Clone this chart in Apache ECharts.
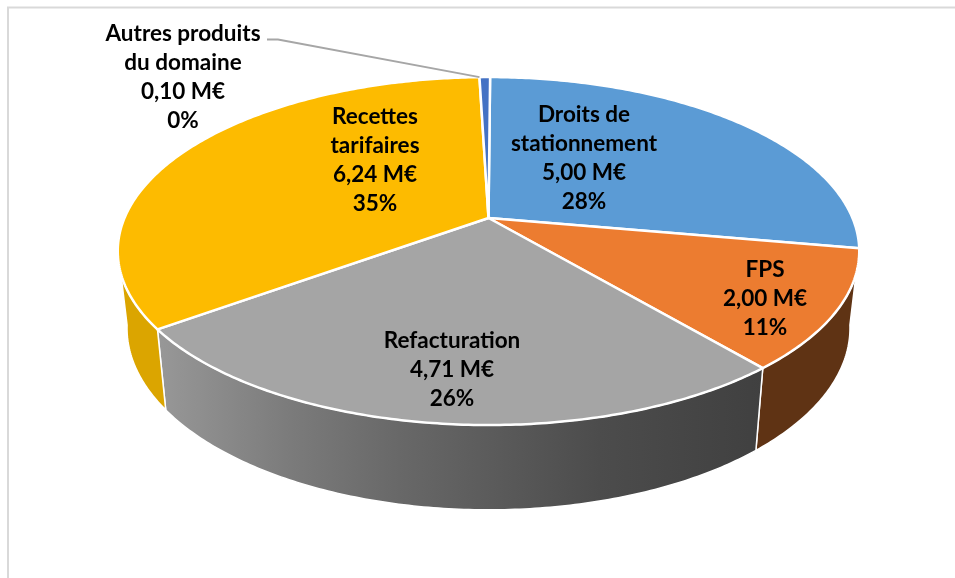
<!DOCTYPE html>
<html>
<head>
<meta charset="utf-8">
<title>Recettes</title>
<script src="https://cdn.jsdelivr.net/npm/echarts@6/dist/echarts.min.js"></script>
<style>
  html, body { margin: 0; padding: 0; background: #fff; }
  #chart { width: 955px; height: 578px; }
</style>
</head>
<body>
<div id="chart"></div>
<script>
// data
const names = ['Droits de\nstationnement', 'FPS', 'Refacturation', 'Recettes\ntarifaires', 'Autres produits\ndu domaine']
const values = [5.00, 2.00, 4.71, 6.24, 0.10]
const percents = [28, 11, 26, 35, 0]

// colours
const topColors = ['#5b9bd5', '#ec7c30', '#a5a5a5', '#fdbb00', '#4472c4']
const grayWall = [[0, '#989898'], [0.22, '#7b7b7b'], [0.4, '#686868'], [0.73, '#4c4c4c'], [1, '#404040']]
const wallColors = ['#3a6b9c', '#5f3314', grayWall, '#dba500', '#2f5597']

// label centres, in page pixels
const labelX = [584, 765, 452, 375, 183]
const labelY = [158, 299, 370, 160, 77]
const leaderFrom = [[267, 39.5], [278, 39.5]] // for the small slice only

// perspective of the disc: p is the foreshortening, see project()
const cx = 488.5, cy = 218, R = 364, Q = 167.7, p = 0.19
const startAngle = 0.3
// the lower rim of the wall
const wallScaleX = 0.975, wallScaleY = 1.045, wallTop = 293.5
// the part of the rim that faces us
const wallFrom = 100, wallTo = 260

const total = values.reduce((a, b) => a + b, 0)
const cumul = []
values.reduce((sum, v, i) => { cumul[i] = sum; return sum + v }, 0)
const sliceAngles = i => [
  startAngle + cumul[i] / total * 360,
  startAngle + (cumul[i] + values[i]) / total * 360
]

function project(deg) {
  const t = deg * Math.PI / 180
  const u = Math.sin(t), v = Math.cos(t)
  const w = 1 + p * v
  return [cx + R * u / w, cy - Q * v / w]
}
function projectLow(deg) {
  const [x, y] = project(deg)
  return [cx + (x - cx) * wallScaleX, wallTop + (y - cy) * wallScaleY]
}
function arc(fn, a, b) {
  const pts = []
  const n = Math.max(2, Math.ceil(Math.abs(b - a) * 1.5))
  for (let i = 0; i <= n; i++) pts.push(fn(a + (b - a) * i / n))
  return pts
}
function fmt(v) {
  return v.toFixed(2).replace('.', ',') + ' M€'
}

function renderWall(params, api) {
  const [a0, b0] = sliceAngles(params.dataIndex)
  const a = Math.max(a0, wallFrom), b = Math.min(b0, wallTo)
  if (b <= a) return { type: 'group', children: [] }
  const c = wallColors[params.dataIndex]
  const fill = Array.isArray(c)
    ? new echarts.graphic.LinearGradient(0, 0, 1, 0, c.map(s => ({ offset: s[0], color: s[1] })))
    : c
  const points = arc(project, a, b).concat(arc(projectLow, a, b).reverse())
  return {
    type: 'polygon',
    shape: { points },
    style: { fill, stroke: '#fff', lineWidth: 1.5 }
  }
}

function renderTop(params, api) {
  const i = params.dataIndex
  const [a, b] = sliceAngles(i)
  const points = [[cx, cy]].concat(arc(project, a, b))
  const children = [{
    type: 'polygon',
    shape: { points },
    style: { fill: topColors[i], stroke: '#fff', lineWidth: 2.5, lineJoin: 'round' }
  }]
  return { type: 'group', children }
}

function renderLabel(params, api) {
  const i = params.dataIndex
  const children = [{
    type: 'text',
    style: {
      text: names[i] + '\n' + fmt(api.value(0)) + '\n' + percents[i] + '%',
      x: labelX[i],
      y: labelY[i],
      align: 'center',
      verticalAlign: 'middle',
      fill: '#000',
      font: 'bold 22.5px Lato',
      lineHeight: 29
    }
  }]
  if (i === values.length - 1) {
    children.unshift({
      type: 'polyline',
      shape: { points: leaderFrom.concat([project(sliceAngles(i)[0])]) },
      style: { fill: null, stroke: '#a6a6a6', lineWidth: 2 }
    })
  }
  return { type: 'group', children }
}

const seriesData = values.map(v => [v])
const chart = echarts.init(document.getElementById('chart'))
chart.setOption({
  animation: false,
  backgroundColor: '#fff',
  graphic: [{
    type: 'polyline',
    shape: { points: [[8, 578], [8, 7.5], [955, 7.5]] },
    style: { fill: null, stroke: '#d9d9d9', lineWidth: 2 },
    silent: true
  }],
  series: [
    { type: 'custom', coordinateSystem: 'none', silent: true, data: seriesData, renderItem: renderWall, z: 2 },
    { type: 'custom', coordinateSystem: 'none', silent: true, data: seriesData, renderItem: renderTop, z: 3 },
    { type: 'custom', coordinateSystem: 'none', silent: true, data: seriesData, renderItem: renderLabel, z: 4 }
  ]
})
</script>
</body>
</html>
